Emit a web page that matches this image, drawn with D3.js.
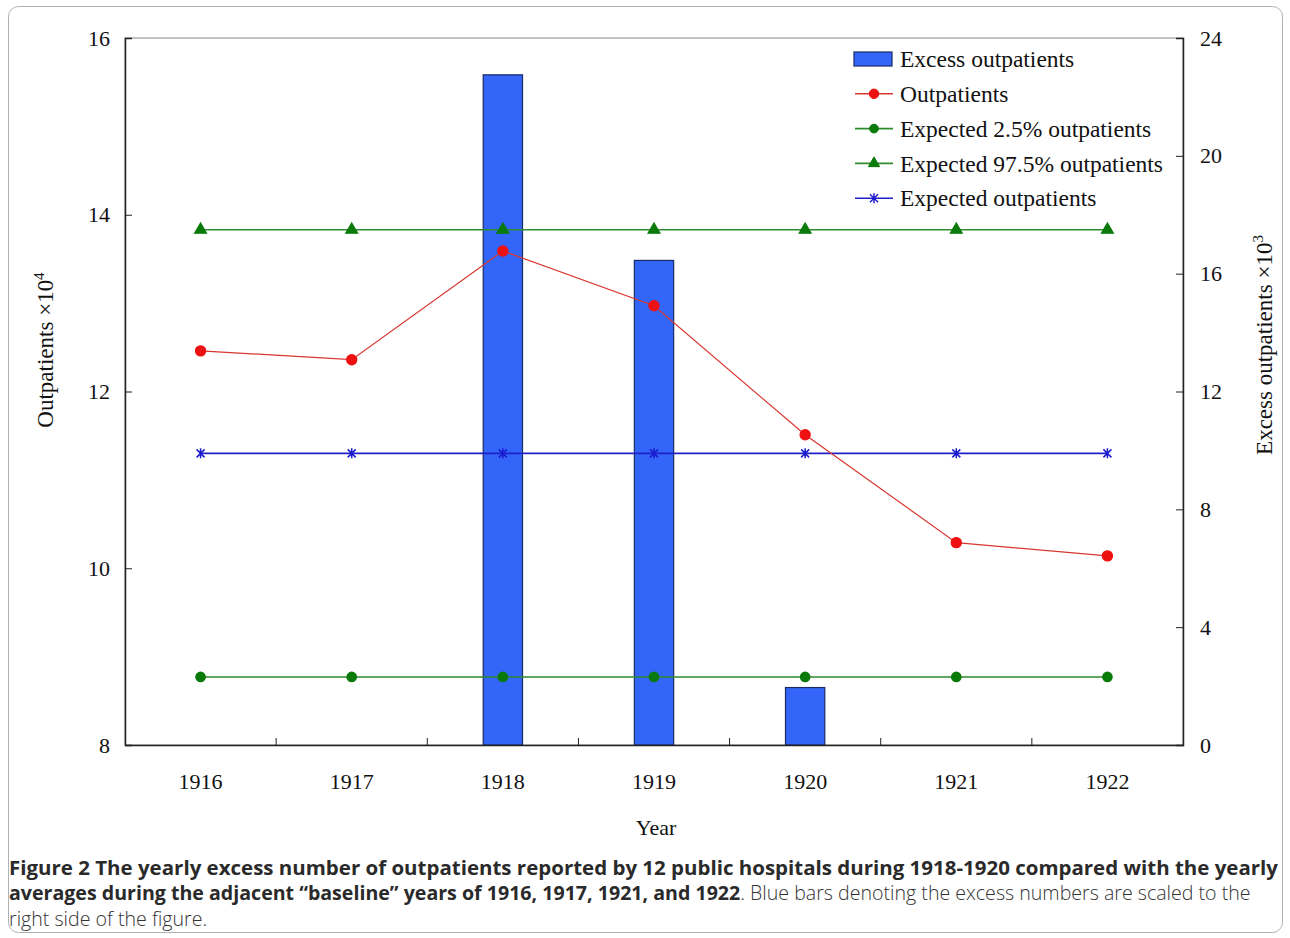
<!DOCTYPE html>
<html><head><meta charset="utf-8">
<script src="https://cdn.jsdelivr.net/npm/d3@7"></script>
<style>body{margin:0;background:#fff}svg{display:block}</style>
</head><body>
<svg id="c" width="1290" height="938"></svg>
<script>
const years = ["1916","1917","1918","1919","1920","1921","1922"];
const excess = [0, 0, 22.75, 16.45, 1.95, 0, 0];
const outpatients = [12.46, 12.36, 13.59, 12.97, 11.51, 10.29, 10.14];
const expected25 = [8.77, 8.77, 8.77, 8.77, 8.77, 8.77, 8.77];
const expected975 = [13.83, 13.83, 13.83, 13.83, 13.83, 13.83, 13.83];
const expected = [11.30, 11.30, 11.30, 11.30, 11.30, 11.30, 11.30];
const leftTicks = [8, 10, 12, 14, 16];
const rightTicks = [0, 4, 8, 12, 16, 20, 24];

const svg = d3.select("#c");
const L = 125, R = 1183, T = 38, B = 745;
const serif = "'Liberation Serif', 'DejaVu Serif', serif";

// figure frame
svg.append("rect").attr("x", 8.5).attr("y", 6.5).attr("width", 1274).attr("height", 926)
  .attr("rx", 10).attr("fill", "none").attr("stroke", "#b0b0b0").attr("stroke-width", 1);

const x = d3.scaleBand().domain(years).range([L, R]);
const yL = d3.scaleLinear().domain([8, 16]).range([B, T]);
const yR = d3.scaleLinear().domain([0, 24]).range([B, T]);

// plot frame
svg.append("rect").attr("x", L).attr("y", T).attr("width", R - L).attr("height", B - T)
  .attr("fill", "none").attr("stroke", "#888").attr("stroke-width", 1);

// bars
const bw = x.bandwidth() * 0.26;
svg.append("g").selectAll("rect").data(years.map((y, i) => ({y, v: excess[i]})).filter(d => d.v > 0))
  .join("rect")
  .attr("x", d => x(d.y) + x.bandwidth() / 2 - bw / 2)
  .attr("y", d => yR(d.v))
  .attr("width", bw)
  .attr("height", d => yR(0) - yR(d.v))
  .attr("fill", "#3366f8").attr("stroke", "#1a2a66").attr("stroke-width", 1.2);

// axes
const axL = svg.append("g").attr("transform", `translate(${L},0)`)
  .call(d3.axisLeft(yL).tickValues(leftTicks).tickSize(-7).tickPadding(15));
const axR = svg.append("g").attr("transform", `translate(${R},0)`)
  .call(d3.axisRight(yR).tickValues(rightTicks).tickSize(-7).tickPadding(17));
const axB = svg.append("g").attr("transform", `translate(0,${B})`)
  .call(d3.axisBottom(x).tickSize(0).tickPadding(28));
[axL, axR, axB].forEach(a => {
  a.select(".domain").attr("stroke", "#222").attr("stroke-width", 1.5);
  a.selectAll(".tick line").attr("stroke", "#222");
  a.selectAll("text").attr("font-family", serif).attr("font-size", 22).attr("fill", "#111");
});
axL.selectAll("text").attr("text-anchor", "end");
axR.selectAll("text").attr("text-anchor", "start");
// bottom ticks between categories
const bTicks = years.slice(1).map(y => x(y));
svg.append("g").selectAll("line").data(bTicks).join("line")
  .attr("x1", d => d).attr("x2", d => d).attr("y1", B).attr("y2", B - 7)
  .attr("stroke", "#222");

const cx = y => x(y) + x.bandwidth() / 2;

function drawLine(vals, color, width) {
  svg.append("path").datum(vals)
    .attr("d", d3.line().x((d, i) => cx(years[i])).y(d => yL(d)))
    .attr("fill", "none").attr("stroke", color).attr("stroke-width", width);
}
drawLine(expected975, "#2e8b2e", 1.6);
drawLine(expected25, "#2e8b2e", 1.6);
drawLine(expected, "#2020c8", 1.6);
drawLine(outpatients, "#d9362f", 1.2);

const sym = (type, size) => d3.symbol().type(type).size(size)();
function markers(vals, path, color) {
  svg.append("g").selectAll("path").data(vals).join("path")
    .attr("transform", (d, i) => `translate(${cx(years[i])},${yL(d)})`)
    .attr("d", path).attr("fill", color).attr("stroke", color).attr("stroke-width", 1.3);
}
const starPath = "M-4,-4L4,4M-4,4L4,-4M0,-5L0,5";
markers(expected975, sym(d3.symbolTriangle, 60), "#0a7a0a");
markers(expected25, sym(d3.symbolCircle, 70), "#0a7a0a");
markers(outpatients, sym(d3.symbolCircle, 80), "#ee1111");
svg.append("g").selectAll("path").data(expected).join("path")
  .attr("transform", (d, i) => `translate(${cx(years[i])},${yL(d)})`)
  .attr("d", starPath).attr("fill", "none").attr("stroke", "#1a1ad0").attr("stroke-width", 1.5);

// legend
const legend = [
  {label: "Excess outpatients", kind: "bar"},
  {label: "Outpatients", kind: "line", color: "#d9362f", mcolor: "#ee1111", m: sym(d3.symbolCircle, 70)},
  {label: "Expected 2.5% outpatients", kind: "line", color: "#2e8b2e", mcolor: "#0a7a0a", m: sym(d3.symbolCircle, 60)},
  {label: "Expected 97.5% outpatients", kind: "line", color: "#2e8b2e", mcolor: "#0a7a0a", m: sym(d3.symbolTriangle, 55)},
  {label: "Expected outpatients", kind: "star", color: "#2020c8", mcolor: "#1a1ad0"}
];
const lg = svg.append("g");
legend.forEach((d, i) => {
  const yy = 59 + i * 34.8;
  if (d.kind === "bar") {
    lg.append("rect").attr("x", 854).attr("y", yy - 7).attr("width", 38).attr("height", 14)
      .attr("fill", "#3366f8").attr("stroke", "#1a2a66").attr("stroke-width", 1.2);
  } else {
    lg.append("line").attr("x1", 855).attr("x2", 893).attr("y1", yy).attr("y2", yy)
      .attr("stroke", d.color).attr("stroke-width", 1.6);
    if (d.kind === "star") {
      lg.append("path").attr("transform", `translate(874,${yy})`).attr("d", starPath)
        .attr("fill", "none").attr("stroke", d.mcolor).attr("stroke-width", 1.4);
    } else {
      lg.append("path").attr("transform", `translate(874,${yy})`).attr("d", d.m)
        .attr("fill", d.mcolor).attr("stroke", d.mcolor);
    }
  }
  lg.append("text").attr("x", 900).attr("y", yy).attr("dy", "0.35em")
    .attr("font-family", serif).attr("font-size", 23.5).attr("fill", "#111").text(d.label);
});

// axis titles
const tL = svg.append("text").attr("transform", "translate(53,350) rotate(-90)")
  .attr("text-anchor", "middle").attr("font-family", serif).attr("font-size", 23).attr("fill", "#111");
tL.append("tspan").text("Outpatients ×10");
tL.append("tspan").attr("dy", -9).attr("font-size", 15).text("4");
const tR = svg.append("text").attr("transform", "translate(1272,345) rotate(-90)")
  .attr("text-anchor", "middle").attr("font-family", serif).attr("font-size", 23).attr("fill", "#111");
tR.append("tspan").text("Excess outpatients ×10");
tR.append("tspan").attr("dy", -9).attr("font-size", 15).text("3");
svg.append("text").attr("x", 656).attr("y", 835).attr("text-anchor", "middle")
  .attr("font-family", serif).attr("font-size", 22).attr("fill", "#111").text("Year");

// caption
const sans = "'Open Sans', 'Noto Sans', sans-serif";
svg.append("text").attr("x", 9).attr("y", 875).attr("font-family", sans).attr("font-size", 19.6)
  .attr("font-weight", "bold").attr("fill", "#2a2a2a")
  .attr("textLength", 1269).attr("lengthAdjust", "spacingAndGlyphs")
  .text("Figure 2 The yearly excess number of outpatients reported by 12 public hospitals during 1918-1920 compared with the yearly");
const c2 = svg.append("text").attr("x", 9).attr("y", 900).attr("font-family", sans).attr("font-size", 19.6).attr("fill", "#333");
c2.append("tspan").attr("font-weight", "bold").attr("fill", "#2a2a2a")
  .text("averages during the adjacent “baseline” years of 1916, 1917, 1921, and 1922");
c2.append("tspan").attr("font-weight", 300).text(". Blue bars denoting the excess numbers are scaled to the");
svg.append("text").attr("x", 9).attr("y", 926).attr("font-family", sans).attr("font-size", 19.6)
  .attr("font-weight", 300).attr("fill", "#333").text("right side of the figure.");
</script>
</body></html>
